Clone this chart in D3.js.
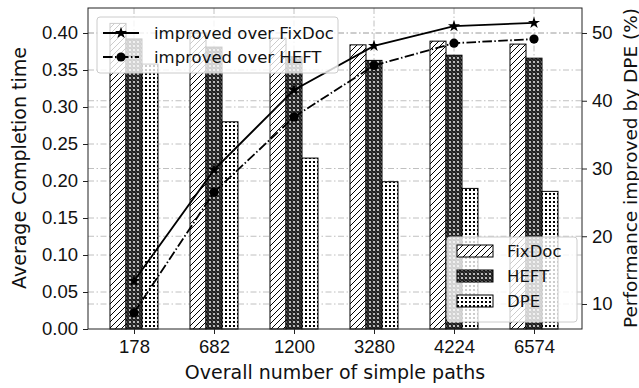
<!DOCTYPE html>
<html>
<head>
<meta charset="utf-8">
<script src="https://cdn.jsdelivr.net/npm/d3@7"></script>
<style>
  body { margin: 0; background: #fff; }
  svg { display: block; font-family: "DejaVu Sans", sans-serif; }
</style>
</head>
<body>
<svg id="chart" width="639" height="388"></svg>
<script>
// data
var categories = ["178", "682", "1200", "3280", "4224", "6574"];
var fixdoc = [0.413, 0.400, 0.393, 0.384, 0.389, 0.385];
var heft = [0.392, 0.381, 0.368, 0.363, 0.370, 0.366];
var dpe = [0.358, 0.280, 0.231, 0.199, 0.190, 0.186];
var overFixDoc = [13.4, 29.8, 41.6, 48.1, 51.0, 51.5];
var overHEFT = [8.7, 26.5, 37.6, 45.2, 48.5, 49.1];
var leftTicks = [0, 0.05, 0.10, 0.15, 0.20, 0.25, 0.30, 0.35, 0.40];
var rightTicks = [10, 20, 30, 40, 50];

var svg = d3.select("#chart");
var L = 88, R = 582, T = 8, B = 329;

var x = d3.scaleLinear().domain([-0.575, 5.6]).range([L, R]);
var yL = d3.scaleLinear().domain([0, 0.4338]).range([B, T]);
var yR = d3.scaleLinear().domain([6.31, 53.69]).range([B, T]);
var barW = x(0.2) - x(0);

// patterns
var defs = svg.append("defs");
var p1 = defs.append("pattern").attr("id", "hatch").attr("patternUnits", "userSpaceOnUse")
  .attr("width", 6).attr("height", 6);
p1.append("rect").attr("width", 6).attr("height", 6).attr("fill", "white");
p1.append("path").attr("d", "M-1,7 L7,-1 M-2,2 L2,-2 M4,8 L8,4")
  .attr("stroke", "black").attr("stroke-width", 1);

var p2 = defs.append("pattern").attr("id", "rings").attr("patternUnits", "userSpaceOnUse")
  .attr("width", 4).attr("height", 4);
p2.append("rect").attr("width", 4).attr("height", 4).attr("fill", "#222");
p2.append("circle").attr("cx", 2).attr("cy", 2).attr("r", 1.1).attr("fill", "#ddd");
p2.append("circle").attr("cx", 0).attr("cy", 0).attr("r", 0.6).attr("fill", "#aaa");
p2.append("circle").attr("cx", 4).attr("cy", 4).attr("r", 0.6).attr("fill", "#aaa");

var p3 = defs.append("pattern").attr("id", "dots").attr("patternUnits", "userSpaceOnUse")
  .attr("width", 4).attr("height", 4);
p3.append("rect").attr("width", 4).attr("height", 4).attr("fill", "white");
p3.append("rect").attr("x", 1).attr("y", 1).attr("width", 2).attr("height", 2)
  .attr("fill", "black").attr("shape-rendering", "crispEdges");

var gridDash = "6,2.5,1.5,2.5";

// grid lines
var grid = svg.append("g");
grid.selectAll(".gl").data(leftTicks.slice(1)).enter().append("line")
  .attr("x1", L).attr("x2", R).attr("y1", d => yL(d)).attr("y2", d => yL(d))
  .attr("stroke", "#b0b0b0").attr("stroke-width", 0.8).attr("stroke-dasharray", gridDash);
grid.selectAll(".gr").data(rightTicks).enter().append("line")
  .attr("x1", L).attr("x2", R).attr("y1", d => yR(d)).attr("y2", d => yR(d))
  .attr("stroke", "#b0b0b0").attr("stroke-width", 0.8).attr("stroke-dasharray", gridDash);
grid.selectAll(".gx").data(categories).enter().append("line")
  .attr("x1", (d, i) => x(i)).attr("x2", (d, i) => x(i)).attr("y1", T).attr("y2", B)
  .attr("stroke", "#b0b0b0").attr("stroke-width", 0.8).attr("stroke-dasharray", gridDash);

// bars
var series = [
  { name: "FixDoc", values: fixdoc, fill: "url(#hatch)", off: -1 },
  { name: "HEFT", values: heft, fill: "url(#rings)", off: 0 },
  { name: "DPE", values: dpe, fill: "url(#dots)", off: 1 }
];
var bars = svg.append("g");
series.forEach(function (s) {
  bars.selectAll(null).data(s.values).enter().append("rect")
    .attr("x", (d, i) => x(i + s.off * 0.2) - barW / 2)
    .attr("y", d => yL(d))
    .attr("width", barW)
    .attr("height", d => B - yL(d))
    .attr("fill", s.fill)
    .attr("stroke", "black").attr("stroke-width", 1);
});

// axes
var axL = svg.append("g").attr("transform", `translate(${L},0)`)
  .call(d3.axisLeft(yL).tickValues(leftTicks).tickFormat(d3.format(".2f")).tickSize(5).tickPadding(5));
var axR = svg.append("g").attr("transform", `translate(${R},0)`)
  .call(d3.axisRight(yR).tickValues(rightTicks).tickSize(5).tickPadding(5));
var axB = svg.append("g").attr("transform", `translate(0,${B})`)
  .call(d3.axisBottom(x).tickValues(d3.range(categories.length)).tickFormat(i => categories[i]).tickSize(5).tickPadding(6));
[axL, axR, axB].forEach(function (a) {
  a.select(".domain").remove();
  a.selectAll("text").attr("font-size", 18.5).attr("fill", "#111");
  a.selectAll("line").attr("stroke", "#222");
});
svg.append("rect").attr("x", L).attr("y", T).attr("width", R - L).attr("height", B - T)
  .attr("fill", "none").attr("stroke", "#222").attr("stroke-width", 1);

// lines on right axis
var line = d3.line().x((d, i) => x(i)).y(d => yR(d));
svg.append("path").datum(overFixDoc).attr("d", line)
  .attr("fill", "none").attr("stroke", "black").attr("stroke-width", 1.8);
svg.append("path").datum(overHEFT).attr("d", line)
  .attr("fill", "none").attr("stroke", "black").attr("stroke-width", 1.8)
  .attr("stroke-dasharray", "9.6,2.4,1.5,2.4");
var star = d3.symbol().type(d3.symbolStar).size(45);
svg.selectAll(".star").data(overFixDoc).enter().append("path")
  .attr("d", star).attr("transform", (d, i) => `translate(${x(i)},${yR(d)})`).attr("fill", "black");
svg.selectAll(".dot").data(overHEFT).enter().append("circle")
  .attr("cx", (d, i) => x(i)).attr("cy", d => yR(d)).attr("r", 4.6).attr("fill", "black");

// axis labels
svg.append("text").attr("transform", "translate(19,168) rotate(-90)")
  .attr("text-anchor", "middle").attr("dominant-baseline", "central")
  .attr("font-size", 19).attr("fill", "#111").text("Average Completion time");
svg.append("text").attr("transform", "translate(630,168) rotate(-90)")
  .attr("text-anchor", "middle").attr("dominant-baseline", "central")
  .attr("font-size", 18.5).attr("fill", "#111").text("Performance improved by DPE (%)");
svg.append("text").attr("x", (L + R) / 2).attr("y", 379)
  .attr("text-anchor", "middle").attr("font-size", 19).attr("fill", "#111")
  .text("Overall number of simple paths");

// legend for lines (top left)
var lg1 = svg.append("g");
lg1.append("rect").attr("x", 97).attr("y", 17).attr("width", 241).attr("height", 56).attr("rx", 3)
  .attr("fill", "white").attr("fill-opacity", 0.8).attr("stroke", "#ccc");
var lineItems = [
  { label: "improved over FixDoc", dash: null, marker: "star" },
  { label: "improved over HEFT", dash: "9.6,2.4,1.5,2.4", marker: "dot" }
];
lineItems.forEach(function (d, i) {
  var yy = 33 + i * 24;
  lg1.append("line").attr("x1", 103).attr("x2", 139).attr("y1", yy).attr("y2", yy)
    .attr("stroke", "black").attr("stroke-width", 1.8).attr("stroke-dasharray", d.dash);
  if (d.marker === "star") {
    lg1.append("path").attr("d", star).attr("transform", `translate(121,${yy})`).attr("fill", "black");
  } else {
    lg1.append("circle").attr("cx", 121).attr("cy", yy).attr("r", 4.6).attr("fill", "black");
  }
  lg1.append("text").attr("x", 154).attr("y", yy).attr("dominant-baseline", "central")
    .attr("font-size", 16.5).attr("fill", "#111").text(d.label);
});

// legend for bars (bottom right)
var lg2 = svg.append("g");
lg2.append("rect").attr("x", 447).attr("y", 237).attr("width", 130).attr("height", 85).attr("rx", 3)
  .attr("fill", "white").attr("fill-opacity", 0.8).attr("stroke", "#ccc");
series.forEach(function (s, i) {
  var yy = 251 + i * 25;
  lg2.append("rect").attr("x", 457).attr("y", yy - 6).attr("width", 36).attr("height", 12)
    .attr("fill", s.fill).attr("stroke", "black").attr("stroke-width", 1);
  lg2.append("text").attr("x", 507).attr("y", yy).attr("dominant-baseline", "central")
    .attr("font-size", 16.5).attr("fill", "#111").text(s.name);
});
</script>
</body>
</html>
